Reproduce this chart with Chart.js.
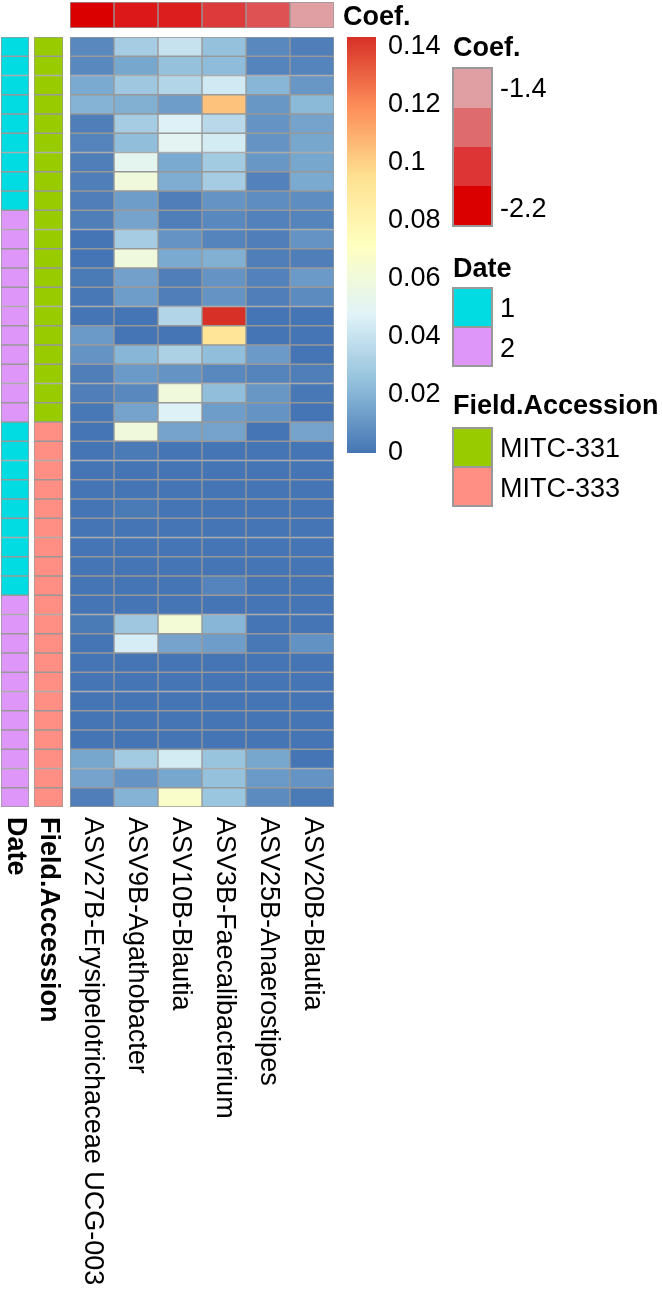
<!DOCTYPE html>
<html>
<head>
<meta charset="utf-8">
<script src="https://cdn.jsdelivr.net/npm/chart.js@4.4.1/dist/chart.umd.min.js"></script>
<style>
  body { margin: 0; background: #fff; }
  #wrap { position: relative; width: 662px; height: 1295px; overflow: hidden;
          font-family: "Liberation Sans", Arial, sans-serif; }
  canvas { position: absolute; }
  .txt { position: absolute; font-size: 27px; line-height: 27px; color: #000; white-space: nowrap; }
  .txt.b { font-weight: bold; }
  .sw { position: absolute; box-sizing: border-box; }
</style>
</head>
<body>
<div id="wrap">
  <canvas id="coefRow" width="264" height="26" style="left:70px;top:2px"></canvas>
  <canvas id="dateCol" width="32" height="1258" style="left:0px;top:37px"></canvas>
  <canvas id="accCol" width="34" height="1258" style="left:32px;top:37px"></canvas>
  <canvas id="heat" width="264" height="1258" style="left:70px;top:37px"></canvas>
  <canvas id="colorBar" width="120" height="440" style="left:347px;top:27px"></canvas>
</div>
<script>
// --- data ---
const taxa = [
  'ASV27B-Erysipelotrichaceae UCG-003',
  'ASV9B-Agathobacter',
  'ASV10B-Blautia',
  'ASV3B-Faecalibacterium',
  'ASV25B-Anaerostipes',
  'ASV20B-Blautia'
];
const coef = [-2.2, -2.08, -2.05, -1.91, -1.79, -1.4];

// relative abundance, one array per taxon, rows top to bottom
const asv27b = [0.006, 0.006, 0.017, 0.020, 0.003, 0.005, 0.003, 0.003, 0.003, 0.003,
                0.000, 0.000, 0.002, 0.001, 0.000, 0.012, 0.010, 0.003, 0.003, 0.001,
                0.000, 0.000, 0.000, 0.000, 0.000, 0.000, 0.000, 0.000, 0.000, 0.000,
                0.002, 0.000, 0.000, 0.000, 0.000, 0.000, 0.000, 0.016, 0.015, 0.003];
const asv9b  = [0.030, 0.016, 0.028, 0.019, 0.030, 0.024, 0.051, 0.060, 0.013, 0.015,
                0.030, 0.059, 0.014, 0.013, 0.000, 0.000, 0.021, 0.012, 0.006, 0.015,
                0.060, 0.002, 0.000, 0.000, 0.002, 0.000, 0.000, 0.000, 0.000, 0.000,
                0.028, 0.045, 0.000, 0.000, 0.000, 0.000, 0.000, 0.029, 0.010, 0.020];
const asv10b = [0.040, 0.025, 0.034, 0.013, 0.047, 0.050, 0.017, 0.018, 0.003, 0.003,
                0.010, 0.017, 0.003, 0.003, 0.034, 0.000, 0.032, 0.010, 0.060, 0.047,
                0.015, 0.000, 0.000, 0.000, 0.000, 0.000, 0.000, 0.000, 0.000, 0.000,
                0.062, 0.015, 0.000, 0.000, 0.000, 0.000, 0.000, 0.044, 0.016, 0.067];
const asv3b  = [0.025, 0.023, 0.043, 0.104, 0.036, 0.044, 0.029, 0.030, 0.010, 0.006,
                0.005, 0.019, 0.010, 0.010, 0.1434, 0.092, 0.024, 0.006, 0.024, 0.013,
                0.015, 0.000, 0.000, 0.000, 0.000, 0.000, 0.000, 0.000, 0.005, 0.000,
                0.021, 0.013, 0.000, 0.000, 0.000, 0.000, 0.000, 0.026, 0.025, 0.027];
const asv25b = [0.006, 0.005, 0.021, 0.011, 0.010, 0.010, 0.011, 0.004, 0.008, 0.004,
                0.003, 0.003, 0.004, 0.003, 0.000, 0.000, 0.012, 0.005, 0.011, 0.010,
                0.000, 0.000, 0.000, 0.000, 0.000, 0.000, 0.000, 0.000, 0.000, 0.000,
                0.000, 0.001, 0.000, 0.000, 0.000, 0.000, 0.000, 0.016, 0.012, 0.007];
const asv20b = [0.003, 0.005, 0.011, 0.022, 0.015, 0.016, 0.016, 0.017, 0.008, 0.005,
                0.010, 0.003, 0.012, 0.007, 0.000, 0.000, 0.000, 0.003, 0.001, 0.000,
                0.015, 0.000, 0.000, 0.000, 0.000, 0.000, 0.000, 0.000, 0.000, 0.000,
                0.000, 0.009, 0.000, 0.000, 0.000, 0.000, 0.000, 0.000, 0.010, 0.002];

const dateGroup = [1, 1, 1, 1, 1, 1, 1, 1, 1, 2, 2, 2, 2, 2, 2, 2, 2, 2, 2, 2,
                   1, 1, 1, 1, 1, 1, 1, 1, 1, 2, 2, 2, 2, 2, 2, 2, 2, 2, 2, 2];
const accession = ['MITC-331', 'MITC-331', 'MITC-331', 'MITC-331', 'MITC-331',
                   'MITC-331', 'MITC-331', 'MITC-331', 'MITC-331', 'MITC-331',
                   'MITC-331', 'MITC-331', 'MITC-331', 'MITC-331', 'MITC-331',
                   'MITC-331', 'MITC-331', 'MITC-331', 'MITC-331', 'MITC-331',
                   'MITC-333', 'MITC-333', 'MITC-333', 'MITC-333', 'MITC-333',
                   'MITC-333', 'MITC-333', 'MITC-333', 'MITC-333', 'MITC-333',
                   'MITC-333', 'MITC-333', 'MITC-333', 'MITC-333', 'MITC-333',
                   'MITC-333', 'MITC-333', 'MITC-333', 'MITC-333', 'MITC-333'];

const dateLevels = [1, 2];
const dateColors = ['#00DCE2', '#DF96F9'];
const accessionLevels = ['MITC-331', 'MITC-333'];
const accessionColors = ['#99CC00', '#FF8E84'];

const barTickValues = [0, 0.02, 0.04, 0.06, 0.08, 0.1, 0.12, 0.14];
const barTickLabels = ['0', '0.02', '0.04', '0.06', '0.08', '0.1', '0.12', '0.14'];
const coefLegendValues = [-1.4, -1.6667, -1.9333, -2.2];
const coefLegendLabels = ['-1.4', '', '', '-2.2'];

// colour ramps
const heatRamp = ['#4575B4', '#91BFDB', '#E0F3F8', '#FFFFBF', '#FEE090', '#FC8D59', '#D73027'];
const coefRamp = ['#DB0000', '#E0A0A3'];
const gridColor = '#999999';
const FONT = '"Liberation Sans", Arial, sans-serif';

const samples = dateGroup.map((d, i) => 'sample ' + (i + 1));
const columns = [asv27b, asv9b, asv10b, asv3b, asv25b, asv20b];
const vmax = Math.max(...columns.flat());
const coefMin = Math.min(...coef), coefMax = Math.max(...coef);

function hexToRgb(h) {
  const n = parseInt(h.slice(1), 16);
  return [(n >> 16) & 255, (n >> 8) & 255, n & 255];
}
function ramp(colors, t) {
  t = Math.min(1, Math.max(0, t));
  const s = t * (colors.length - 1);
  const i = Math.min(Math.floor(s), colors.length - 2);
  const f = s - i;
  const a = hexToRgb(colors[i]), b = hexToRgb(colors[i + 1]);
  return 'rgb(' + a.map((v, k) => Math.round(v + (b[k] - v) * f)).join(',') + ')';
}
const coefColor = v => ramp(coefRamp, (v - coefMin) / (coefMax - coefMin));

// rotated labels under a column chart (read top to bottom)
const colLabelPlugin = {
  id: 'colLabels',
  afterDraw(chart, args, opts) {
    const { ctx, chartArea, scales } = chart;
    ctx.save();
    ctx.font = (opts.bold ? 'bold ' : '') + '27px ' + FONT;
    ctx.fillStyle = '#000';
    ctx.textAlign = 'left';
    ctx.textBaseline = 'middle';
    opts.labels.forEach((lab, j) => {
      const x = scales.x.getPixelForValue(j + 0.5);
      ctx.save();
      ctx.translate(x, chartArea.bottom + 10);
      ctx.rotate(Math.PI / 2);
      ctx.fillText(lab, 0, 0);
      ctx.restore();
    });
    ctx.restore();
  }
};

const baseOpts = {
  responsive: false,
  animation: false,
  devicePixelRatio: 1,
  events: []
};
const cellStyle = {
  borderColor: gridColor,
  borderWidth: 1,
  borderSkipped: false,
  barPercentage: 1,
  categoryPercentage: 1
};

// main heatmap: one stacked horizontal dataset per taxon
new Chart(document.getElementById('heat'), {
  type: 'bar',
  data: {
    labels: samples,
    datasets: columns.map((vals, j) => Object.assign({
      label: taxa[j],
      data: vals.map(() => 1),
      backgroundColor: vals.map(v => ramp(heatRamp, v / vmax))
    }, cellStyle))
  },
  options: Object.assign({}, baseOpts, {
    indexAxis: 'y',
    layout: { padding: { bottom: 488 } },
    scales: {
      x: { type: 'linear', stacked: true, min: 0, max: taxa.length, display: false },
      y: { stacked: true, display: false }
    },
    plugins: {
      legend: { display: false },
      tooltip: { enabled: false },
      colLabels: { labels: taxa, bold: false }
    }
  }),
  plugins: [colLabelPlugin]
});

// annotation columns
function annotationColumn(id, values, levels, colors, title, pad) {
  new Chart(document.getElementById(id), {
    type: 'bar',
    data: {
      labels: samples,
      datasets: [Object.assign({
        label: title,
        data: values.map(() => 1),
        backgroundColor: values.map(v => colors[levels.indexOf(v)])
      }, cellStyle)]
    },
    options: Object.assign({}, baseOpts, {
      indexAxis: 'y',
      layout: { padding: { left: pad[0], right: pad[1], bottom: 488 } },
      scales: {
        x: { type: 'linear', min: 0, max: 1, display: false },
        y: { display: false }
      },
      plugins: {
        legend: { display: false },
        tooltip: { enabled: false },
        colLabels: { labels: [title], bold: true }
      }
    }),
    plugins: [colLabelPlugin]
  });
}
annotationColumn('dateCol', dateGroup, dateLevels, dateColors, 'Date', [1, 3]);
annotationColumn('accCol', accession, accessionLevels, accessionColors, 'Field.Accession', [2, 3]);

// coefficient annotation row
new Chart(document.getElementById('coefRow'), {
  type: 'bar',
  data: {
    labels: taxa,
    datasets: [Object.assign({
      label: 'Coef.',
      data: coef.map(() => 1),
      backgroundColor: coef.map(coefColor)
    }, cellStyle)]
  },
  options: Object.assign({}, baseOpts, {
    scales: {
      x: { display: false },
      y: { min: 0, max: 1, display: false }
    },
    plugins: { legend: { display: false }, tooltip: { enabled: false } }
  })
});

// colour bar with its own axis
new Chart(document.getElementById('colorBar'), {
  type: 'bar',
  data: {
    labels: [''],
    datasets: [{
      data: [[0, vmax]],
      barPercentage: 1,
      categoryPercentage: 1,
      borderWidth: 0,
      backgroundColor: c => {
        const ca = c.chart.chartArea;
        if (!ca) return heatRamp[0];
        const g = c.chart.ctx.createLinearGradient(0, ca.bottom, 0, ca.top);
        heatRamp.forEach((col, i) => g.addColorStop(i / (heatRamp.length - 1), col));
        return g;
      }
    }]
  },
  options: Object.assign({}, baseOpts, {
    layout: { padding: { top: 10, bottom: 14 } },
    scales: {
      x: { display: false },
      y: {
        position: 'right',
        min: 0,
        max: vmax,
        afterFit: s => { s.width = 91; s.paddingTop = 0; s.paddingBottom = 0; },
        afterBuildTicks: s => { s.ticks = barTickValues.map(v => ({ value: v })); },
        grid: { display: false, drawTicks: false },
        border: { display: false },
        ticks: {
          padding: 12,
          autoSkip: false,
          color: '#000',
          font: { family: FONT, size: 27 },
          callback: (v, i) => barTickLabels[i]
        }
      }
    },
    plugins: { legend: { display: false }, tooltip: { enabled: false } }
  })
});

// discrete legends (plain html)
const wrap = document.getElementById('wrap');
function addText(txt, x, cy, bold) {
  const d = document.createElement('div');
  d.className = 'txt' + (bold ? ' b' : '');
  d.textContent = txt;
  d.style.left = x + 'px';
  d.style.top = (cy - 13.5) + 'px';
  wrap.appendChild(d);
}
function addSwatches(x, y, colors, labels, separated) {
  const w = 41, h = 40;
  if (!separated) {
    const box = document.createElement('div');
    box.className = 'sw';
    box.style.cssText += `left:${x}px;top:${y}px;width:${w}px;height:${h * colors.length}px;border:2px solid ${gridColor};`;
    wrap.appendChild(box);
  }
  colors.forEach((c, i) => {
    const d = document.createElement('div');
    d.className = 'sw';
    if (separated) {
      d.style.cssText += `left:${x}px;top:${y + i * (h - 1)}px;width:${w}px;height:${h + 1}px;background:${c};border:2px solid ${gridColor};`;
    } else {
      d.style.cssText += `left:${x + 2}px;top:${y + 2 + i * (h - 1)}px;width:${w - 4}px;height:${h - 1}px;background:${c};`;
    }
    wrap.appendChild(d);
    if (labels[i]) addText(labels[i], x + 48, y + i * h + h / 2 + 1, false);
  });
}

addText('Coef.', 343, 16, true);
addText('Coef.', 453, 47, true);
addSwatches(452, 67, coefLegendValues.map(coefColor), coefLegendLabels, false);
addText('Date', 453, 268, true);
addSwatches(452, 287, dateColors, dateLevels.map(String), true);
addText('Field.Accession', 453, 405, true);
addSwatches(452, 427, accessionColors, accessionLevels, true);
</script>
</body>
</html>
